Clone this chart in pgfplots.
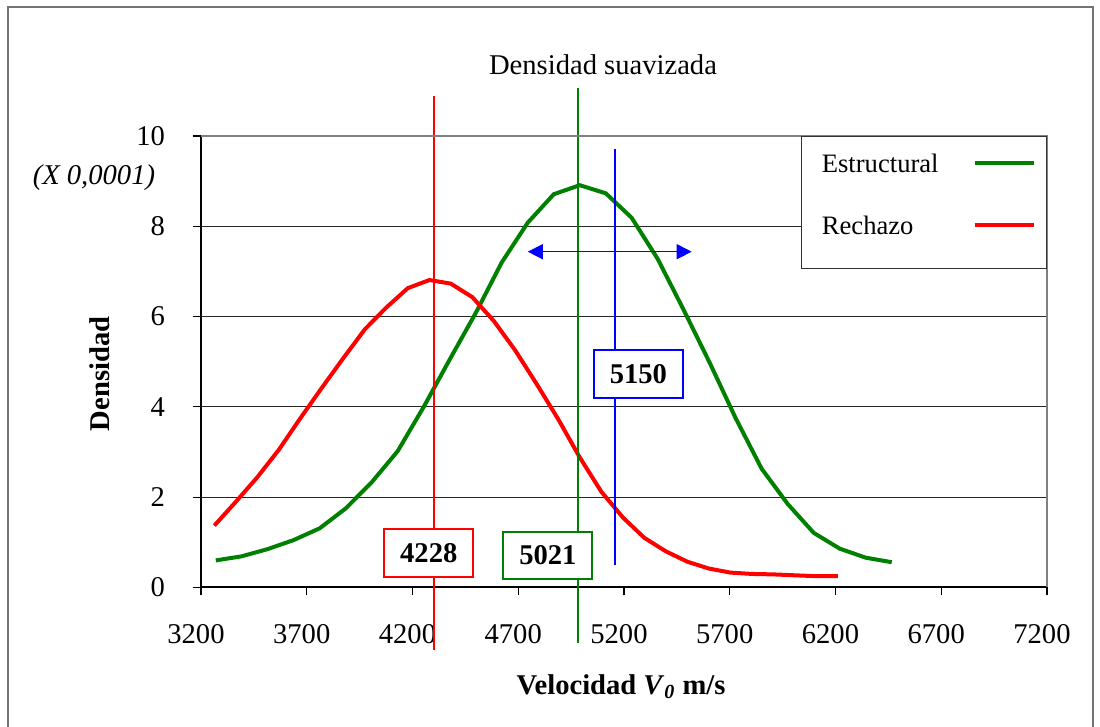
\documentclass[border=0pt]{standalone}
\usepackage{fontspec}
\setmainfont{Liberation Serif}
\usepackage{pgfplots}
\pgfplotsset{compat=1.18}
\usetikzlibrary{arrows.meta}
\definecolor{exgreen}{RGB}{0,128,0}
\definecolor{exred}{RGB}{255,0,0}
\definecolor{exblue}{RGB}{0,0,255}
\newcommand\fs{\fontsize{14.3}{17}\selectfont}
\newcommand\fsl{\fontsize{13.3}{16}\selectfont}

\pgfplotstableread{
x y
3270 0.60
3392 0.69
3515 0.85
3638 1.05
3761 1.31
3884 1.75
4007 2.33
4130 3.02
4253 4.00
4376 5.05
4499 6.08
4622 7.20
4745 8.08
4868 8.71
4991 8.91
5114 8.73
5236 8.19
5359 7.28
5482 6.15
5605 4.98
5728 3.75
5851 2.63
5974 1.85
6097 1.21
6220 0.86
6343 0.66
6466 0.56
}\estructural

\pgfplotstableread{
x y
3263 1.37
3365 1.90
3466 2.44
3568 3.05
3670 3.75
3771 4.42
3873 5.08
3975 5.72
4076 6.20
4178 6.63
4280 6.81
4381 6.73
4483 6.43
4585 5.90
4686 5.25
4788 4.50
4890 3.72
4991 2.88
5093 2.12
5195 1.55
5296 1.10
5398 0.80
5500 0.57
5601 0.42
5703 0.33
5805 0.30
5906 0.29
6008 0.27
6110 0.25
6211 0.25
}\rechazo

\begin{document}
\begin{tikzpicture}[font=\fs]
\useasboundingbox (-100.5pt,-69.75pt) rectangle (449.5pt,293.75pt);
\draw[black!55, line width=1pt] (-96.5pt,-80pt) -- (-96.5pt,290.25pt) -- (446pt,290.25pt) -- (446pt,-80pt);
\begin{axis}[
  at={(0pt,0pt)}, anchor=south west,
  scale only axis, width=423pt, height=225.75pt,
  xmin=3200, xmax=7200, ymin=0, ymax=10,
  xtick={3200,3700,...,7200}, ytick={0,2,...,10},
  ymajorgrids, major grid style={black!85, line width=0.5pt},
  axis line style={black, line width=1pt},
  tick style={black, line width=0.6pt},
  tick align=outside, major tick length=4pt,
  xtick pos=bottom, ytick pos=left,
  /pgf/number format/1000 sep={},
  /pgf/number format/assume math mode=true,
  ticklabel style={font=\fs},
  xticklabel style={anchor=center, inner sep=0pt, yshift=-19.5pt, xshift=-2.5pt},
  yticklabel style={anchor=east, inner sep=0pt, xshift=-13.85pt},
  clip=false,
  legend plot pos=right, legend cell align=left,
  legend image code/.code={\draw[#1] (0pt,4.3pt) -- (29.5pt,4.3pt);},
  legend style={at={(1,1)}, anchor=north east, draw=black!80, line width=0.6pt,
    fill=white, font=\fsl, inner xsep=5.4pt, inner ysep=7.85pt,
    row sep=11.9pt, column sep=17pt,
    nodes={inner sep=0pt, text height=10pt, text depth=9.1pt}},
]
\addplot[exgreen, line width=2pt] table[x=x,y=y] {\estructural};
\addlegendentry{\hspace*{4.6pt}Estructural}
\addplot[exred, line width=2pt] table[x=x,y=y] {\rechazo};
\addlegendentry{\hspace*{4.6pt}Rechazo}

\addplot[exred, line width=1pt, forget plot] coordinates {(4302,10.88) (4302,-1.38)};
\addplot[exgreen, line width=1pt, forget plot] coordinates {(4983,11.06) (4983,-1.24)};
\addplot[exblue, line width=1pt, forget plot] coordinates {(5157,9.71) (5157,0.5)};

\draw[exblue, line width=0.75pt, {Triangle[length=7.5pt,width=7.5pt]}-{Triangle[length=7.5pt,width=7.5pt]}]
  (axis cs:4745,7.437) -- (axis cs:5520,7.437);

\node[draw=exred, line width=1pt, fill=white, minimum width=44.5pt, minimum height=23.75pt, font=\fs\bfseries] at (axis cs:4277,0.764) {4228};
\node[draw=exgreen, line width=1pt, fill=white, minimum width=44.5pt, minimum height=23.75pt, font=\fs\bfseries] at (axis cs:4840,0.711) {5021};
\node[draw=exblue, line width=1pt, fill=white, minimum width=44.5pt, minimum height=23.75pt, font=\fs\bfseries] at (axis cs:5268,4.733) {5150};

\draw[black!50, line width=0.75pt] (rel axis cs:0,1) -- (rel axis cs:1,1) -- (rel axis cs:1,0);

\node[font=\fs\bfseries] at (rel axis cs:0.4965,-0.2204) {Velocidad \textit{V}\textsubscript{\textit{0}} m/s};
\node[font=\fs\bfseries, rotate=90] at (rel axis cs:-0.1194,0.4729) {Densidad};
\node[font=\fs\itshape] at (rel axis cs:-0.1265,0.907) {(X 0,0001)};
\node[font=\fs] at (rel axis cs:0.4752,1.1573) {Densidad suavizada};
\end{axis}
\end{tikzpicture}
\end{document}
